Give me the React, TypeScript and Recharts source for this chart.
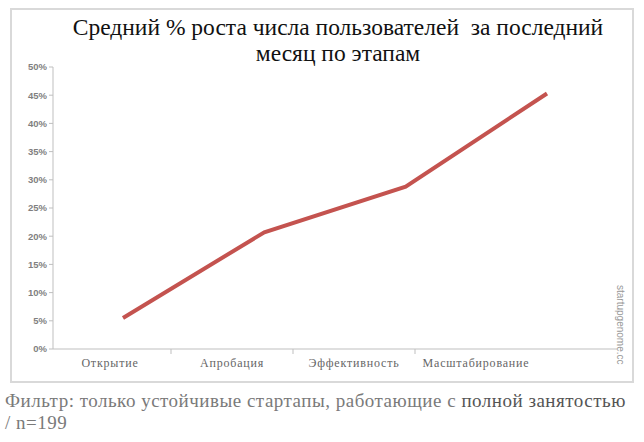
import { LineChart, Line, XAxis, YAxis } from 'recharts';

const stages = ['Открытие', 'Апробация', 'Эффективность', 'Масштабирование'];
const growth = [5.5, 20.7, 28.8, 45.3];
const yTicks = [0, 5, 10, 15, 20, 25, 30, 35, 40, 45, 50];

const data = stages.map((stage, i) => ({ stage, growth: growth[i] }));

const serif = 'Liberation Serif, DejaVu Serif, Times New Roman, serif';

function StageTick(props: any) {
  const { x, y, payload, index } = props;
  const half = 61;
  return (
    <g>
      {index > 0 && <line x1={x - half} y1={y - 8} x2={x - half} y2={y - 3} stroke="#bfbfbf" />}
      <text
        x={x}
        y={y + 10}
        textAnchor="middle"
        fill="#666"
        fontSize={12}
        fontFamily={serif}
        letterSpacing={0.8}
      >
        {payload.value}
      </text>
    </g>
  );
}

export default function App() {
  return (
    <div style={{ position: 'absolute', left: 0, top: 0, width: 644, height: 442, background: '#fff' }}>
      <div
        style={{
          position: 'absolute',
          left: 10,
          top: 8,
          width: 620,
          height: 371,
          border: '2px solid #d9d9d9',
        }}
      />
      <div
        style={{
          position: 'absolute',
          left: 40,
          top: 14,
          width: 596,
          textAlign: 'center',
          fontFamily: serif,
          fontSize: 23.5,
          lineHeight: '26px',
          color: '#111',
          whiteSpace: 'pre',
        }}
      >
        {'Средний % роста числа пользователей  за последний\nмесяц по этапам'}
      </div>
      <div style={{ position: 'absolute', left: 0, top: 0 }}>
        <LineChart width={644} height={442} data={data} margin={{ top: 67, right: 27, bottom: 63, left: 13 }}>
          <XAxis
            xAxisId="labels"
            dataKey="stage"
            height={30}
            padding={{ left: 57, right: 141 }}
            stroke="#bfbfbf"
            tickLine={false}
            tick={<StageTick />}
            interval={0}
          />
          <XAxis xAxisId="line" dataKey="stage" hide padding={{ left: 70, right: 70 }} />
          <YAxis
            width={40}
            domain={[0, 50]}
            ticks={yTicks}
            interval={0}
            tickFormatter={(v) => `${v}%`}
            stroke="#bfbfbf"
            tickSize={4}
            tick={{ fill: '#7f7f7f', fontSize: 9.5, fontWeight: 700, fontFamily: 'Liberation Sans, sans-serif' }}
          />
          <Line
            xAxisId="line"
            type="linear"
            dataKey="growth"
            stroke="#c4534f"
            strokeWidth={4}
            dot={false}
            activeDot={false}
            isAnimationActive={false}
          />
        </LineChart>
      </div>
      <div
        style={{
          position: 'absolute',
          left: 615,
          top: 285,
          writingMode: 'vertical-rl',
          fontFamily: 'Liberation Sans, sans-serif',
          fontSize: 10,
          color: '#999',
        }}
      >
        startupgenome.cc
      </div>
      <div
        style={{
          position: 'absolute',
          left: 5,
          top: 390,
          width: 640,
          fontFamily: serif,
          fontSize: 19,
          letterSpacing: 0.5,
          lineHeight: '22px',
          color: '#7a7a7a',
          whiteSpace: 'nowrap',
        }}
      >
        Фильтр: только устойчивые стартапы, работающие с <span style={{ color: '#555' }}>полной занятостью</span>
        <br />/ n=199
      </div>
    </div>
  );
}
